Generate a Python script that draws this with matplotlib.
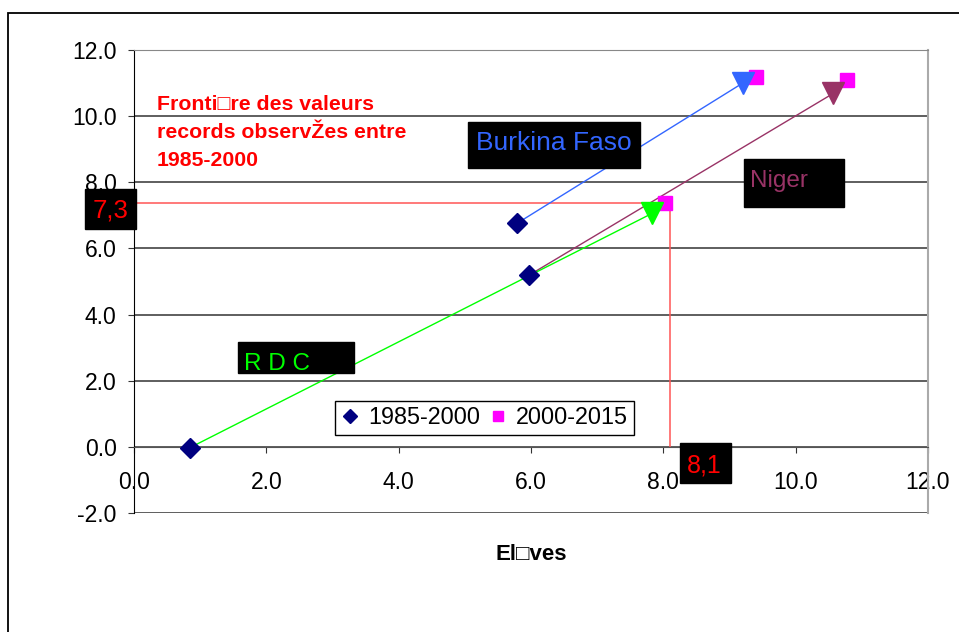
import numpy as np
import matplotlib
matplotlib.use("Agg")
import matplotlib.pyplot as plt
from matplotlib.patches import Rectangle

plt.rcParams['font.family'] = ['Liberation Sans', 'DejaVu Sans']

# data
countries = ["Burkina Faso", "Niger", "R D C"]
x_8500 = [5.79, 5.97, 0.84]      # 1985-2000
y_8500 = [6.76, 5.19, -0.03]
x_0015 = [9.40, 10.77, 8.03]     # 2000-2015
y_0015 = [11.18, 11.09, 7.37]
x_tip = [9.20, 10.57, 7.83]      # arrow heads
y_tip = [11.00, 10.69, 7.06]
arrow_colors = ["#3366FF", "#993366", "#00FF00"]

rec_x, rec_y = 8.1, 7.37         # record frontier guide
rec_x_lbl, rec_y_lbl = "8,1", "7,3"

xticks = np.arange(0, 12.1, 2)
yticks = np.arange(-2, 12.1, 2)

W, H = 959, 632
fig = plt.figure(figsize=(W / 100, H / 100), dpi=100)

def px(x, y):
    return x / W, 1 - y / H

# chart area border (runs off the right and bottom of the image)
fig.add_artist(Rectangle(px(8, 700), 2, (700 - 13) / H, transform=fig.transFigure,
                         fill=False, edgecolor="black", lw=1.3))

ax = fig.add_axes([134 / W, 1 - 513 / H, (928 - 134) / W, (513 - 50) / H])
ax.set_xlim(0, 12)
ax.set_ylim(-2, 12)

ax.set_yticks(yticks)
ax.set_yticklabels([f"{v:.1f}" for v in yticks])
ax.set_xticks(xticks)
ax.set_xticklabels([f"{v:.1f}" for v in xticks])
ax.yaxis.grid(True, color="#333333", lw=1.1)
ax.set_axisbelow(True)

ax.spines['bottom'].set_position(('data', 0))
ax.spines['bottom'].set_color("#555555")
ax.spines['left'].set_color("black")
ax.spines['top'].set_color("#888888")
ax.spines['right'].set_color("#aaaaaa")
ax.spines['right'].set_linewidth(1.5)
ax.tick_params(axis='both', direction='out', length=4.5, color="#333333",
               labelsize=16.5)
ax.tick_params(axis='x', pad=13)
ax.tick_params(axis='y', pad=8)

# record guide lines
ax.plot([0, rec_x], [rec_y, rec_y], color="#FF5555", lw=1.1, zorder=2)
ax.plot([rec_x, rec_x], [0, rec_y], color="#FF5555", lw=1.1, zorder=2)

# arrows from 1985-2000 to 2000-2015
for i in range(3):
    ax.plot([x_8500[i], x_tip[i]], [y_8500[i], y_tip[i]], color=arrow_colors[i], lw=1, zorder=3)

ax.plot(x_8500, y_8500, 'D', color="#000080", ms=10, zorder=4, label="1985-2000")
ax.plot(x_0015, y_0015, 's', color="#FF00FF", ms=10.5, zorder=4, label="2000-2015")

for i in range(3):
    ax.plot(x_tip[i], y_tip[i], 'v', color=arrow_colors[i], ms=16, zorder=5)

leg = ax.legend(loc='center', bbox_to_anchor=px(484.5, 418), bbox_transform=fig.transFigure,
                ncol=2, fontsize=16.8, frameon=True, fancybox=False, framealpha=1,
                edgecolor="black", markerscale=0.75, handlelength=0.8, handletextpad=0.35,
                columnspacing=0.4, borderpad=0.25)
leg.get_frame().set_linewidth(1)

ax.set_xlabel("El\u25a1ves", fontsize=16, fontweight='bold', va='center')
ax.xaxis.set_label_coords(0.5, (513 - 555) / (513 - 50))


def black_box(x0, y0, x1, y1, text, color, tx, ty, fs):
    fig.add_artist(Rectangle(px(x0, y1), (x1 - x0) / W, (y1 - y0) / H,
                             transform=fig.transFigure, color="black", zorder=6))
    fig.text(*px(tx, ty), text, color=color, fontsize=fs, va='baseline', ha='left', zorder=7)


black_box(468, 122, 640, 168, countries[0], arrow_colors[0], 476, 150, 19)
black_box(744, 159, 844, 207, countries[1], arrow_colors[1], 750, 187, 17.5)
black_box(238, 342, 354, 373, countries[2], arrow_colors[2], 244, 370, 17.5)
black_box(85, 189, 136, 229, rec_y_lbl, "#FF0000", 92.5, 217, 18.5)
black_box(680, 443, 731, 483, rec_x_lbl, "#FF0000", 687, 472, 18)

title_lines = ["Fronti\u25a1re des valeurs", "records observŽes entre", "1985-2000"]
for k, line in enumerate(title_lines):
    fig.text(*px(157, 110 + 27.8 * k), line, color="#FF0000", fontsize=15.3,
             fontweight='bold', va='baseline', ha='left')

fig.savefig("out.png", dpi=100)
